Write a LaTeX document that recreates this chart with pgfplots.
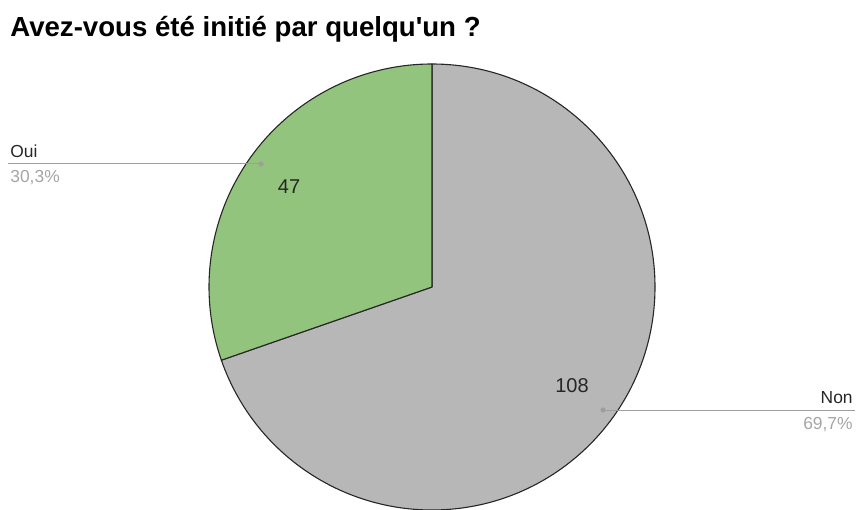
\documentclass[border=0pt]{standalone}
\usepackage{pgfplots}
\usepackage{pgfplotstable}
\pgfplotsset{compat=1.18}
\usepackage{fontspec}
\setmainfont{Liberation Sans}
\definecolor{ouiclr}{HTML}{93C47D}
\definecolor{nonclr}{HTML}{B7B7B7}
\definecolor{lead}{HTML}{9E9E9E}
\definecolor{pct}{HTML}{A5A5A5}
\pgfplotstableread{
label value
Oui 47
Non 108
}\piedata
\pgfplotstablegetelem{0}{value}\of\piedata \let\vOui\pgfplotsretval
\pgfplotstablegetelem{1}{value}\of\piedata \let\vNon\pgfplotsretval
\pgfmathsetmacro{\angOui}{\vOui/(\vOui+\vNon)*360}
\pgfmathsetmacro{\angNon}{\vNon/(\vOui+\vNon)*360}
\begin{document}
\begin{tikzpicture}
\begin{axis}[
  hide axis, scale only axis,
  width=428pt, height=254.5pt,
  xmin=0, xmax=856, ymin=0, ymax=509,
]
\path (axis cs:0,0) rectangle (axis cs:856,509);
\filldraw[fill=nonclr, draw=black!85, line width=0.55pt, line join=round]
  (axis cs:432,222) -- ++(90:111.5pt) arc[start angle=90, end angle={90-\angNon}, radius=111.5pt] -- cycle;
\filldraw[fill=ouiclr, draw=black!85, line width=0.55pt, line join=round]
  (axis cs:432,222) -- ++(90:111.5pt) arc[start angle=90, end angle={90+\angOui}, radius=111.5pt] -- cycle;
\node[font=\fontsize{10}{12}\selectfont, text=black!85] at (axis cs:289,322) {47};
\node[font=\fontsize{10}{12}\selectfont, text=black!85] at (axis cs:572,123) {108};
% leaders
\draw[lead, line width=0.5pt] (axis cs:8,345) -- (axis cs:261,345);
\fill[lead] (axis cs:261,345) circle[radius=1.3pt];
\draw[lead, line width=0.5pt] (axis cs:603,99) -- (axis cs:855,99);
\fill[lead] (axis cs:603,99) circle[radius=1.3pt];
\node[anchor=base west, inner sep=0pt, font=\fontsize{8.7}{10}\selectfont, text=black!85] at (axis cs:10,351) {Oui};
\node[anchor=base west, inner sep=0pt, font=\fontsize{8.7}{10}\selectfont, text=pct] at (axis cs:10,326) {30,3\%};
\node[anchor=base east, inner sep=0pt, font=\fontsize{8.7}{10}\selectfont, text=black!85] at (axis cs:853,106) {Non};
\node[anchor=base east, inner sep=0pt, font=\fontsize{8.7}{10}\selectfont, text=pct] at (axis cs:853,80) {69,7\%};
\node[anchor=base west, inner sep=0pt, font=\bfseries\fontsize{13.8}{16}\selectfont, text=black] at (axis cs:10,472) {Avez-vous été initié par quelqu\textquotesingle un ?};
\end{axis}
\end{tikzpicture}
\end{document}
